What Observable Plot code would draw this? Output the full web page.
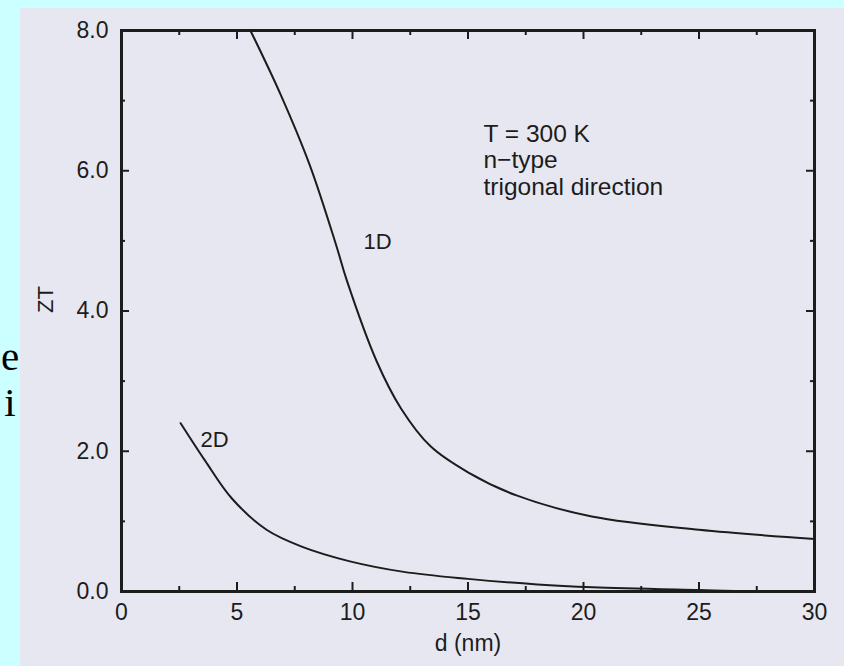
<!DOCTYPE html>
<html>
<head>
<meta charset="utf-8">
<script src="https://cdn.jsdelivr.net/npm/d3@7"></script>
<script src="https://cdn.jsdelivr.net/npm/@observablehq/plot@0.6"></script>
<style>
  html, body { margin: 0; padding: 0; }
  body { width: 844px; height: 666px; overflow: hidden; background: #ccffff; position: relative; }
  .slide { position: absolute; left: 0; top: 333px; width: 20px; text-align: center; font-family: "Liberation Serif", "Times New Roman", serif; font-size: 41px; line-height: 46px; color: #000; z-index: 1; }
  #paper { position: absolute; left: 20px; top: 8px; right: 0; bottom: 0; background: #e7e7f1; z-index: 2; }
  #chart { position: absolute; left: 0; top: 0; z-index: 3; }
  #chart svg { display: block; }
</style>
</head>
<body>
<div class="slide">e<br>i</div>
<div id="paper"></div>
<div id="chart"></div>
<script>
// 1D curve (d in nm, ZT)
const d1D  = [5.58, 6.87, 8.15, 9.31, 9.75, 11.05, 12.1, 13.38, 15.0, 17.1, 20.36, 25.0, 30.0];
const zt1D = [8.0, 7.10, 6.08, 4.92, 4.44, 3.28, 2.61, 2.07, 1.70, 1.37, 1.07, 0.88, 0.75];
// 2D curve
const d2D  = [2.56, 3.61, 4.77, 6.28, 7.80, 9.89, 12.22, 15.0, 18.0, 20.4, 25.0, 27.0];
const zt2D = [2.40, 1.87, 1.33, 0.88, 0.64, 0.43, 0.28, 0.18, 0.10, 0.06, 0.02, 0.005];

const xMajor = [0, 5, 10, 15, 20, 25, 30];
const xMinor = [2.5, 7.5, 12.5, 17.5, 22.5, 27.5];
const yMajor = [0, 2, 4, 6, 8];
const yMinor = [1, 3, 5, 7];
const yTickLabels = ["0.0", "2.0", "4.0", "6.0", "8.0"];

const curveLabels = [
  {d: 10.48, z: 5.11, text: "1D"},
  {d: 3.42, z: 2.28, text: "2D"}
];
const noteLines = ["T = 300 K", "n\u2212type", "trigonal direction"];
const noteAt = {d: 15.67, z: 6.68};

const ink = "#1c1c1c";
const rows1 = d1D.map((d, i) => ({d, z: zt1D[i]}));
const rows2 = d2D.map((d, i) => ({d, z: zt2D[i]}));

const W = 844, H = 666, ML = 121, MR = 30, MT = 30, MB = 75;
const PW = W - ML - MR, PH = H - MT - MB;
const tk = {stroke: ink, strokeWidth: 2};

const chart = Plot.plot({
  width: W,
  height: H,
  marginLeft: ML,
  marginRight: MR,
  marginTop: MT,
  marginBottom: MB,
  style: {background: "transparent", fontFamily: "'Liberation Sans', Arial, sans-serif", color: ink},
  x: {domain: [0, 30]},
  y: {domain: [0, 8]},
  marks: [
    // tick labels
    Plot.axisX(xMajor, {anchor: "bottom", tickSize: 0, tickPadding: 12, fontSize: 23, fill: ink, label: null}),
    Plot.axisY(yMajor, {anchor: "left", tickSize: 0, tickPadding: 13, fontSize: 23, fill: ink, label: null,
      tickFormat: (v) => yTickLabels[yMajor.indexOf(v)]}),
    // inward ticks on all four sides
    Plot.ruleX(xMajor, {x: (d) => d, insetTop: PH - 9, ...tk}),
    Plot.ruleX(xMinor, {x: (d) => d, insetTop: PH - 5, ...tk}),
    Plot.ruleX(xMajor, {x: (d) => d, insetBottom: PH - 9, ...tk}),
    Plot.ruleX(xMinor, {x: (d) => d, insetBottom: PH - 5, ...tk}),
    Plot.ruleY(yMajor, {y: (d) => d, insetRight: PW - 8, ...tk}),
    Plot.ruleY(yMinor, {y: (d) => d, insetRight: PW - 4, ...tk}),
    Plot.ruleY(yMajor, {y: (d) => d, insetLeft: PW - 8, ...tk}),
    Plot.ruleY(yMinor, {y: (d) => d, insetLeft: PW - 4, ...tk}),
    Plot.frame({stroke: ink, strokeWidth: 3}),
    // curves
    Plot.line(rows1, {x: "d", y: "z", curve: "catmull-rom", stroke: ink, strokeWidth: 2}),
    Plot.line(rows2, {x: "d", y: "z", curve: "catmull-rom", stroke: ink, strokeWidth: 2}),
    // labels
    Plot.text(curveLabels, {x: "d", y: "z", text: "text", textAnchor: "start", lineAnchor: "top", fontSize: 22, fill: ink}),
    Plot.text([noteLines.join("\n")], {x: () => noteAt.d, y: () => noteAt.z, textAnchor: "start", lineAnchor: "top", lineHeight: 1.08, fontSize: 24.5, fill: ink}),
    Plot.text(["d (nm)"], {frameAnchor: "bottom", dy: 52, lineAnchor: "middle", fontSize: 23, fill: ink}),
    Plot.text(["ZT"], {frameAnchor: "left", dx: -76, dy: 2, rotate: -90, lineAnchor: "middle", fontSize: 22, fill: ink})
  ]
});
document.getElementById("chart").appendChild(chart);
</script>
</body>
</html>
